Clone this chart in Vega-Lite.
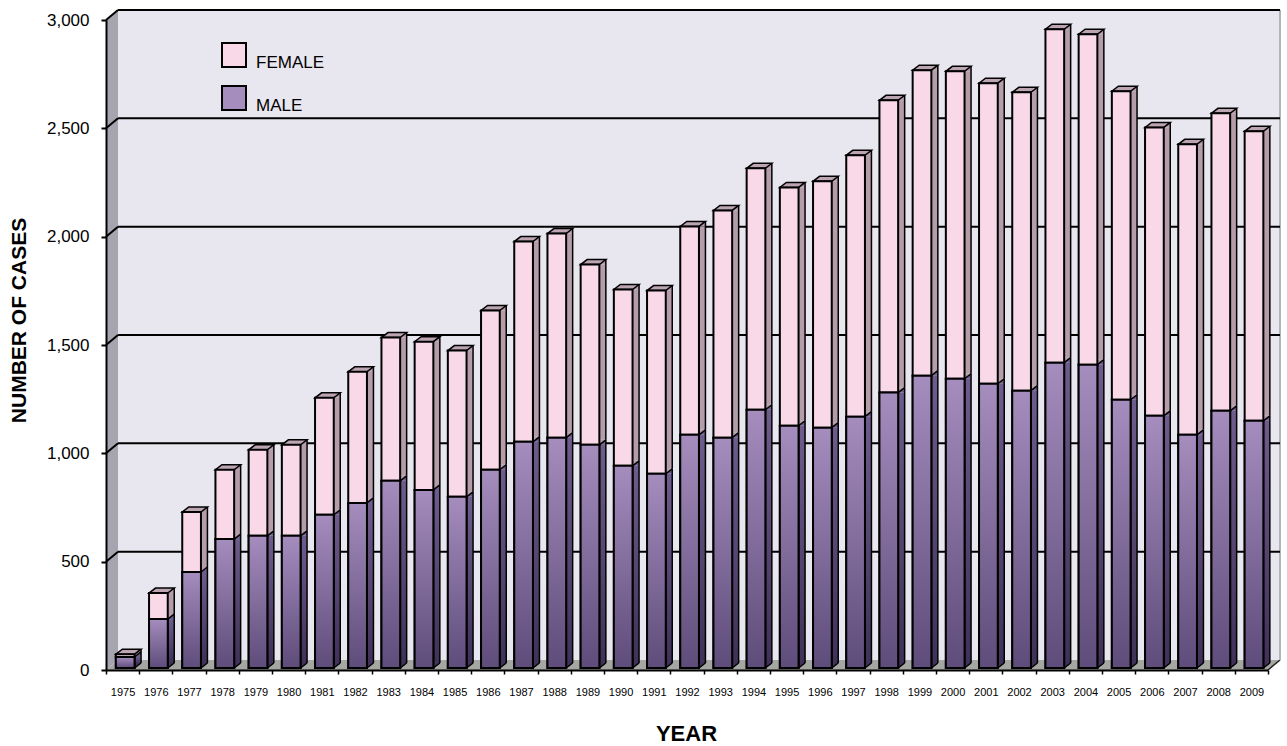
{"$schema":"https://vega.github.io/schema/vega-lite/v6.json","width":1162,"height":650,"autosize":{"type":"none"},"padding":{"left":106,"top":20,"right":19,"bottom":76},"background":"white","config":{"view":{"stroke":null},"font":"Liberation Sans"},
"layer":[
{"data":{"values":[{}]},"layer":[
{"mark":{"type":"rect","fill":"#E8E6EE","xOffset":12,"x2Offset":12,"yOffset":-10,"y2Offset":-10},"encoding":{"x":{"datum":1974.5,"type":"quantitative","scale":{"domain":[1974.5,2009.5],"zero":false,"nice":false,"padding":0},"axis":{"values":[1974.5,1975.5,1976.5,1977.5,1978.5,1979.5,1980.5,1981.5,1982.5,1983.5,1984.5,1985.5,1986.5,1987.5,1988.5,1989.5,1990.5,1991.5,1992.5,1993.5,1994.5,1995.5,1996.5,1997.5,1998.5,1999.5,2000.5,2001.5,2002.5,2003.5,2004.5,2005.5,2006.5,2007.5,2008.5,2009.5],"tickCount":40,"labelExpr":"datum.value<2009 ? format(datum.value+0.5,'d') : ''","labelOffset":16.6,"labelFontSize":11,"labelColor":"#000","labelPadding":12,"labelOverlap":false,"labelFlush":false,"labelFont":"Liberation Sans","tickColor":"#000","tickSize":4,"tickWidth":1.5,"domainColor":"#000","domainWidth":2,"grid":false,"zindex":1,"title":"YEAR","titleFont":"Liberation Sans","titleFontSize":22,"titleFontWeight":"bold","titleColor":"#000","titleX":580,"titleY":63,"titleBaseline":"middle","titleAlign":"center"}},"x2":{"datum":2009.5},"y":{"datum":0,"type":"quantitative","scale":{"domain":[0,3000],"nice":false},"axis":{"values":[0,500,1000,1500,2000,2500,3000],"labelExpr":"format(datum.value,',')","labelFontSize":17,"labelColor":"#000","labelPadding":12,"labelFont":"Liberation Sans","tickColor":"#000","tickSize":5,"tickWidth":2,"domainColor":"#000","domainWidth":2,"grid":false,"zindex":1,"title":"NUMBER OF CASES","titleFont":"Liberation Sans","titleFontSize":21,"titleFontWeight":"bold","titleColor":"#000","titleX":-87,"titleY":300,"titleBaseline":"middle","titleAlign":"center"}},"y2":{"datum":3000}}},
{"mark":{"type":"point","shape":"M0,0 L12,-10 L12,-660 L0,-650 Z","size":4,"filled":true,"fill":"#A6A4AE","opacity":1},"encoding":{"x":{"datum":1974.5,"type":"quantitative"},"y":{"datum":0,"type":"quantitative"}}},
{"mark":{"type":"point","shape":"M0,0 L1162,0 L1174,-10 L12,-10 Z","size":4,"filled":true,"fill":"#A5A7A3","opacity":1},"encoding":{"x":{"datum":1974.5,"type":"quantitative"},"y":{"datum":0,"type":"quantitative"}}},
{"mark":{"type":"point","shape":"M0,0 L12,-10","size":4,"filled":false,"stroke":"#222","strokeWidth":1.5,"opacity":1},"encoding":{"x":{"datum":2009.5,"type":"quantitative"},"y":{"datum":0,"type":"quantitative"}}},
{"mark":{"type":"rule","stroke":"#B4B4B8","strokeWidth":2,"xOffset":12,"yOffset":-10,"y2Offset":-10},"encoding":{"x":{"datum":2009.5,"type":"quantitative"},"y":{"datum":0,"type":"quantitative"},"y2":{"datum":3000}}}
]},
{"data":{"values":[{"v":500},{"v":1000},{"v":1500},{"v":2000},{"v":2500},{"v":3000}]},"layer":[
{"mark":{"type":"rule","stroke":"#000","strokeWidth":2,"xOffset":12,"x2Offset":12,"yOffset":-10},"encoding":{"x":{"datum":1974.5,"type":"quantitative"},"x2":{"datum":2009.5},"y":{"field":"v","type":"quantitative"}}},
{"mark":{"type":"point","shape":"M0,0 L12,-10","size":4,"filled":false,"stroke":"#000","strokeWidth":2,"opacity":1},"encoding":{"x":{"datum":1974.5,"type":"quantitative"},"y":{"field":"v","type":"quantitative"}}}
]},
{"data":{"values":[
{"year":1975,"sex":"MALE","cases":51},{"year":1975,"sex":"FEMALE","cases":13},
{"year":1976,"sex":"MALE","cases":226},{"year":1976,"sex":"FEMALE","cases":120},
{"year":1977,"sex":"MALE","cases":443},{"year":1977,"sex":"FEMALE","cases":277},
{"year":1978,"sex":"MALE","cases":595},{"year":1978,"sex":"FEMALE","cases":320},
{"year":1979,"sex":"MALE","cases":610},{"year":1979,"sex":"FEMALE","cases":397},
{"year":1980,"sex":"MALE","cases":610},{"year":1980,"sex":"FEMALE","cases":420},
{"year":1981,"sex":"MALE","cases":707},{"year":1981,"sex":"FEMALE","cases":540},
{"year":1982,"sex":"MALE","cases":762},{"year":1982,"sex":"FEMALE","cases":605},
{"year":1983,"sex":"MALE","cases":864},{"year":1983,"sex":"FEMALE","cases":661},
{"year":1984,"sex":"MALE","cases":822},{"year":1984,"sex":"FEMALE","cases":684},
{"year":1985,"sex":"MALE","cases":790},{"year":1985,"sex":"FEMALE","cases":675},
{"year":1986,"sex":"MALE","cases":915},{"year":1986,"sex":"FEMALE","cases":735},
{"year":1987,"sex":"MALE","cases":1044},{"year":1987,"sex":"FEMALE","cases":924},
{"year":1988,"sex":"MALE","cases":1063},{"year":1988,"sex":"FEMALE","cases":942},
{"year":1989,"sex":"MALE","cases":1030},{"year":1989,"sex":"FEMALE","cases":832},
{"year":1990,"sex":"MALE","cases":933},{"year":1990,"sex":"FEMALE","cases":814},
{"year":1991,"sex":"MALE","cases":896},{"year":1991,"sex":"FEMALE","cases":846},
{"year":1992,"sex":"MALE","cases":1076},{"year":1992,"sex":"FEMALE","cases":962},
{"year":1993,"sex":"MALE","cases":1063},{"year":1993,"sex":"FEMALE","cases":1049},
{"year":1994,"sex":"MALE","cases":1192},{"year":1994,"sex":"FEMALE","cases":1114},
{"year":1995,"sex":"MALE","cases":1118},{"year":1995,"sex":"FEMALE","cases":1100},
{"year":1996,"sex":"MALE","cases":1109},{"year":1996,"sex":"FEMALE","cases":1137},
{"year":1997,"sex":"MALE","cases":1160},{"year":1997,"sex":"FEMALE","cases":1206},
{"year":1998,"sex":"MALE","cases":1271},{"year":1998,"sex":"FEMALE","cases":1349},
{"year":1999,"sex":"MALE","cases":1349},{"year":1999,"sex":"FEMALE","cases":1410},
{"year":2000,"sex":"MALE","cases":1335},{"year":2000,"sex":"FEMALE","cases":1419},
{"year":2001,"sex":"MALE","cases":1312},{"year":2001,"sex":"FEMALE","cases":1387},
{"year":2002,"sex":"MALE","cases":1280},{"year":2002,"sex":"FEMALE","cases":1377},
{"year":2003,"sex":"MALE","cases":1409},{"year":2003,"sex":"FEMALE","cases":1539},
{"year":2004,"sex":"MALE","cases":1400},{"year":2004,"sex":"FEMALE","cases":1525},
{"year":2005,"sex":"MALE","cases":1238},{"year":2005,"sex":"FEMALE","cases":1424},
{"year":2006,"sex":"MALE","cases":1164},{"year":2006,"sex":"FEMALE","cases":1331},
{"year":2007,"sex":"MALE","cases":1076},{"year":2007,"sex":"FEMALE","cases":1341},
{"year":2008,"sex":"MALE","cases":1187},{"year":2008,"sex":"FEMALE","cases":1373},
{"year":2009,"sex":"MALE","cases":1141},{"year":2009,"sex":"FEMALE","cases":1336}
]},
"transform":[{"stack":"cases","groupby":["year"],"sort":[{"field":"sex","order":"descending"}],"as":["y0","y1"]}],
"layer":[
{"transform":[{"filter":"datum.sex==='FEMALE'"}],"mark":{"type":"bar","width":6.5,"xOffset":15.2,"yOffset":-2,"y2Offset":-7,"fill":"#B49CA8"},"encoding":{"x":{"field":"year","type":"quantitative"},"y":{"field":"y1","type":"quantitative"},"y2":{"field":"y0"}}},
{"transform":[{"filter":"datum.sex==='MALE'"}],"mark":{"type":"bar","width":6.5,"xOffset":15.2,"yOffset":-2,"y2Offset":-7,"fill":{"gradient":"linear","x1":0,"y1":0,"x2":0,"y2":1,"stops":[{"offset":0,"color":"#6E5C8C"},{"offset":1,"color":"#3F3158"}]}},"encoding":{"x":{"field":"year","type":"quantitative"},"y":{"field":"y1","type":"quantitative"},"y2":{"field":"y0"}}},
{"transform":[{"filter":"datum.sex==='FEMALE'"}],"mark":{"type":"point","shape":"M9.35,0 L15.85,-5 L9.35,-5 Z","size":4,"filled":true,"fill":"#B49CA8","opacity":1,"xOffset":2.6,"yOffset":-2},"encoding":{"x":{"field":"year","type":"quantitative"},"y":{"field":"y0","type":"quantitative"}}},
{"transform":[{"filter":"datum.sex==='FEMALE'"}],"mark":{"type":"point","shape":"M9.35,0 L15.85,-5 L15.85,0 Z","size":4,"filled":true,"fill":"#B49CA8","opacity":1,"xOffset":2.6,"yOffset":-2},"encoding":{"x":{"field":"year","type":"quantitative"},"y":{"field":"y1","type":"quantitative"}}},
{"transform":[{"filter":"datum.sex==='MALE'"}],"mark":{"type":"point","shape":"M9.35,0 L15.85,-5 L9.35,-5 Z","size":4,"filled":true,"fill":"#3F3158","opacity":1,"xOffset":2.6,"yOffset":-2},"encoding":{"x":{"field":"year","type":"quantitative"},"y":{"field":"y0","type":"quantitative"}}},
{"transform":[{"filter":"datum.sex==='MALE'"}],"mark":{"type":"point","shape":"M9.35,0 L15.85,-5 L15.85,0 Z","size":4,"filled":true,"fill":"#6E5C8C","opacity":1,"xOffset":2.6,"yOffset":-2},"encoding":{"x":{"field":"year","type":"quantitative"},"y":{"field":"y1","type":"quantitative"}}},
{"mark":{"type":"rule","stroke":"#000","strokeWidth":1.5,"xOffset":18.45,"yOffset":-7,"y2Offset":-7},"encoding":{"x":{"field":"year","type":"quantitative"},"y":{"field":"y1","type":"quantitative"},"y2":{"field":"y0"}}},
{"mark":{"type":"point","shape":"M9.35,0 L15.85,-5","size":4,"filled":false,"stroke":"#000","strokeWidth":1.5,"opacity":1,"xOffset":2.6,"yOffset":-2},"encoding":{"x":{"field":"year","type":"quantitative"},"y":{"field":"y0","type":"quantitative"}}},
{"transform":[{"filter":"datum.sex==='FEMALE'"}],"mark":{"type":"point","shape":"M-9.35,0 L9.35,0 L15.85,-5 L-2.85,-5 Z","size":4,"filled":true,"fill":"#BCA4B2","stroke":"#000","strokeWidth":1.5,"opacity":1,"xOffset":2.6,"yOffset":-2},"encoding":{"x":{"field":"year","type":"quantitative"},"y":{"field":"y1","type":"quantitative"}}},
{"mark":{"type":"bar","width":18.7,"xOffset":2.6,"yOffset":-2,"y2Offset":-2,"stroke":"#000","strokeWidth":2},"encoding":{"x":{"field":"year","type":"quantitative"},"y":{"field":"y1","type":"quantitative"},"y2":{"field":"y0"},"color":{"field":"sex","type":"nominal","scale":{"domain":["FEMALE","MALE"],"range":["#F9D9E8","#A58DBE"]},"legend":{"orient":"none","legendX":115,"legendY":22,"title":null,"symbolType":"square","symbolSize":576,"symbolStrokeWidth":2,"symbolStrokeColor":"#000","symbolOpacity":1,"rowPadding":11,"labelFont":"Liberation Sans","labelFontSize":17,"labelColor":"#000","labelOffset":9,"labelBaseline":"top","values":["FEMALE","MALE"]}}}},
{"transform":[{"filter":"datum.sex==='MALE'"}],"mark":{"type":"bar","width":18.7,"xOffset":2.6,"yOffset":-2,"y2Offset":-2,"stroke":"#000","strokeWidth":2,"fill":{"gradient":"linear","x1":0,"y1":0,"x2":0,"y2":1,"stops":[{"offset":0,"color":"#A58DBE"},{"offset":1,"color":"#5E4C7A"}]}},"encoding":{"x":{"field":"year","type":"quantitative"},"y":{"field":"y1","type":"quantitative"},"y2":{"field":"y0"}}}
]}
]}
